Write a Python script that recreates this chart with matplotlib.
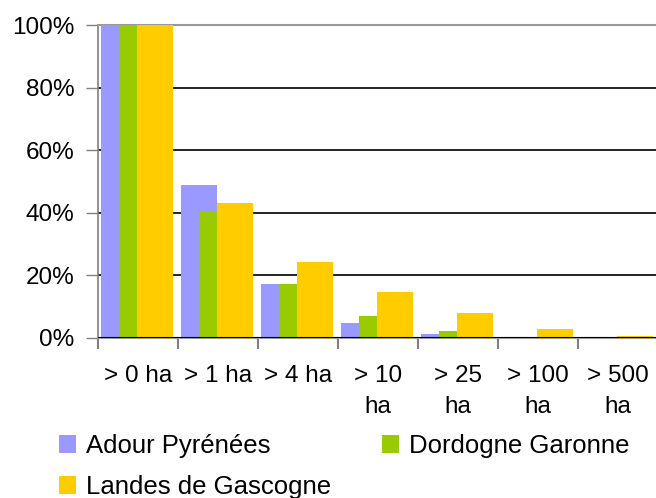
import numpy as np
import matplotlib
matplotlib.use("Agg")
import matplotlib.pyplot as plt
from matplotlib.patches import Patch

plt.rcParams['font.family'] = ['Liberation Sans', 'DejaVu Sans']

categories = ["> 0 ha", "> 1 ha", "> 4 ha", "> 10\nha", "> 25\nha", "> 100\nha", "> 500\nha"]
adour = [100, 48.9, 17.2, 4.9, 1.4, 0.1, 0.05]
dordogne = [100, 40.6, 17.2, 7.0, 2.3, 0.1, 0.05]
landes = [100, 43.1, 24.3, 14.6, 8.0, 3.0, 0.6]
series_names = ["Adour Pyrénées", "Dordogne Garonne", "Landes de Gascogne"]
colors = ["#9999FF", "#99CC00", "#FFCC00"]

W, H = 656, 498
fig = plt.figure(figsize=(W / 100, H / 100), dpi=100)
ax = fig.add_axes([98 / W, 1 - 338 / H, 560 / W, 313 / H])

x = np.arange(len(categories))
bw = 0.45
offsets = [0.2625, 0.4875, 0.7125]
for vals, off, c in zip([adour, dordogne, landes], offsets, colors):
    ax.bar(x + off, vals, width=bw, color=c, zorder=3)

ax.set_xlim(0, len(categories))
ax.set_ylim(0, 100)

# gridlines
for g in [20, 40, 60, 80]:
    ax.axhline(g, color="black", lw=1.2, zorder=1)
ax.axhline(0, color="black", lw=1.5, zorder=4)

ax.spines["right"].set_visible(False)
ax.spines["top"].set_color("#999999")
ax.spines["top"].set_linewidth(1.5)
ax.spines["left"].set_color("#808080")
ax.spines["left"].set_linewidth(1.2)
ax.spines["bottom"].set_color("#999999")
ax.spines["bottom"].set_linewidth(1.5)

ax.set_yticks([0, 20, 40, 60, 80, 100])
ax.set_yticklabels(["0%", "20%", "40%", "60%", "80%", "100%"], fontsize=17.5)
ax.tick_params(axis="y", direction="out", length=9, width=1, color="#808080", pad=8)

ax.set_xticks(np.arange(len(categories) + 1))
ax.set_xticklabels([])
ax.tick_params(axis="x", which="major", direction="out", length=8, width=1.5, color="#808080")
ax.set_xticks(x + 0.5, minor=True)
ax.set_xticklabels(categories, minor=True, fontsize=17.5, linespacing=1.5, va="top")
ax.tick_params(axis="x", which="minor", length=0, pad=19.5)

# legend filled row by row like the original (matplotlib fills by column)
order = [0, 2, 1]
handles = [Patch(facecolor=colors[i], edgecolor="none") for i in order]
labels = [series_names[i] for i in order]
fig.legend(handles, labels, loc="upper left", bbox_to_anchor=(59 / W, 1 - 434 / H),
           ncol=2, frameon=False, fontsize=18.5, handlelength=0.66, handleheight=0.66,
           handletextpad=0.39, columnspacing=2.0, labelspacing=0.66,
           borderpad=0, borderaxespad=0)

fig.savefig("out.png", dpi=100)
